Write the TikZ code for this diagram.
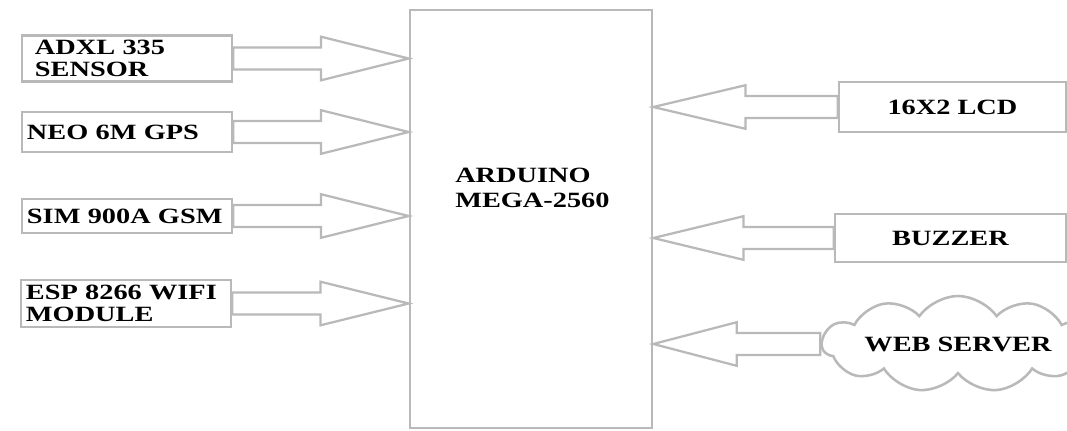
\documentclass[tikz,border=0pt]{standalone}
\usepackage{fontspec}
\setmainfont{Liberation Serif}[FakeStretch=1.3]
\usetikzlibrary{calc,shapes.symbols}

\definecolor{linegray}{RGB}{185,185,185}

\tikzset{
  blk/.style={draw=linegray, line width=1.8pt, fill=white, font=\bfseries\fontsize{15.5}{16}\selectfont},
  inbox/.style={blk, minimum width=5.25cm, text width=5cm, inner xsep=0.12cm, align=left},
  outbox/.style={blk, minimum width=5.7cm, align=center},
  fatline/.style={draw=linegray, line width=1.6pt, line join=miter}
}

% hollow block arrow, head starts half way
\newcommand{\fatarrow}[2]{%
  \draw[fatline] let \p1=(#1), \p2=(#2) in
    (\x1,{\y1+7.8pt}) -- ({(\x1+\x2)/2},{\y1+7.8pt}) -- ({(\x1+\x2)/2},{\y1+15.5pt})
    -- (\x2,\y1) -- ({(\x1+\x2)/2},{\y1-15.5pt}) -- ({(\x1+\x2)/2},{\y1-7.8pt})
    -- (\x1,{\y1-7.8pt}) -- cycle;}

\begin{document}
\begin{tikzpicture}[x=0.025cm, y=-0.025cm]
  \useasboundingbox[fill=white] (0,0) rectangle (1067,430);

  % controller
  \node[blk, minimum width=6.05cm, minimum height=10.45cm] (ard) at (531,219) {};
  \node[font=\bfseries\fontsize{15.5}{16}\selectfont, align=left, anchor=west, inner sep=0pt] (ardlbl) at (455,188) {ARDUINO\\[0.08cm]MEGA-2560};

  % inputs
  \node[inbox, minimum height=1.025cm] (adxl) at (127,58.5) {\hspace{0.2cm}ADXL 335\\\hspace{0.2cm}SENSOR};
  \node[inbox, minimum height=1.0cm] (neo) at (127,132) {NEO 6M GPS};
  \node[inbox, minimum height=0.85cm] (sim) at (127,216) {SIM 900A GSM};
  \node[inbox, minimum height=1.025cm] (esp) at (126,303.5) {ESP 8266 WIFI\\MODULE};

  % outputs
  \node[outbox, minimum width=5.675cm, minimum height=1.25cm] (lcd) at (952.5,107) {16X2 LCD};
  \node[outbox, minimum width=5.775cm, minimum height=1.2cm] (buzz) at (950.5,238) {BUZZER};
  \node[blk, cloud, cloud puffs=11, cloud puff arc=110, cloud ignores aspect, minimum width=5.5cm, minimum height=2.4cm] (web) at (958,344) {WEB SERVER};

  \fatarrow{adxl.east}{adxl.east -| ard.west}
  \fatarrow{neo.east}{neo.east -| ard.west}
  \fatarrow{sim.east}{sim.east -| ard.west}
  \fatarrow{esp.east}{esp.east -| ard.west}
  \fatarrow{lcd.west}{lcd.west -| ard.east}
  \fatarrow{buzz.west}{buzz.west -| ard.east}
  \fatarrow{web.west}{web.west -| ard.east}
\end{tikzpicture}
\end{document}
